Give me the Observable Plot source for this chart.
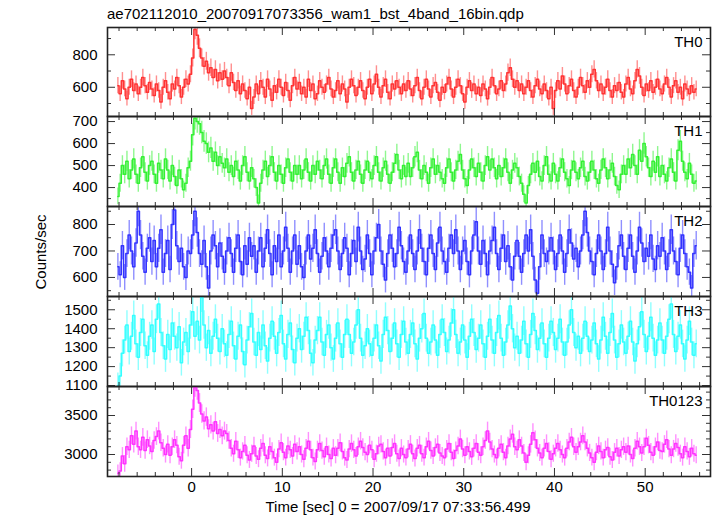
<!DOCTYPE html>
<html><head><meta charset="utf-8">
<script src="https://cdn.jsdelivr.net/npm/d3@7"></script>
<script src="https://cdn.jsdelivr.net/npm/@observablehq/plot@0.6"></script>
<style>
body{margin:0;background:#fff;font-family:"Liberation Sans",Arial,sans-serif;color:#000}
#wrap{position:relative;width:717px;height:516px;overflow:hidden}
.abs{position:absolute;white-space:nowrap}
</style></head><body><div id="wrap"></div>
<script>
const title = "ae702112010_20070917073356_wam1_bst_4band_16bin.qdp";
const xTitle = "Time [sec] 0 = 2007/09/17 07:33:56.499";
const yTitle = "Counts/sec";
const panelNames = ["TH0", "TH1", "TH2", "TH3", "TH0123"];
// time bins: 0.25 s wide starting at -8.25 s
const tStart = -8.25, binWidth = 0.25;
const xDomain = [-9.27, 57.2];
const xMajorTicks = [0, 10, 20, 30, 40, 50];
const xMinorTicks = [-8,-6,-4,-2,2,4,6,8,12,14,16,18,22,24,26,28,32,34,36,38,42,44,46,48,52,54,56];

const th0 = [
610,560,640,590,530,600,650,580,620,560,600,660,610,570,630,590,
550,620,580,510,600,640,570,530,620,590,660,610,540,600,650,620,
680,780,955,920,840,780,730,760,690,720,660,710,640,690,650,700,
660,610,690,630,580,640,560,620,580,530,600,470,540,620,560,640,
600,540,650,590,520,610,570,650,600,550,630,580,520,610,660,590,
630,560,600,540,650,580,620,530,560,640,600,570,620,660,590,540,
580,640,560,620,590,510,600,650,610,550,600,640,580,530,600,650,
560,620,680,600,540,610,650,570,530,620,590,640,600,560,620,580,
640,590,550,610,660,580,530,600,650,590,540,610,630,570,520,600,
570,620,660,590,540,600,650,610,560,510,600,640,580,620,560,600,
550,620,590,530,600,660,610,560,590,640,580,620,690,720,650,600,
640,580,620,560,600,640,580,540,610,650,590,560,620,580,530,600,
470,580,640,590,670,620,560,610,650,580,540,600,660,610,570,640,
600,680,710,640,580,620,560,600,650,580,540,610,580,630,570,540,
620,660,590,560,640,710,670,600,550,620,580,640,570,600,650,590,
560,620,660,600,540,610,640,570,600,530,620,590,560,610,570,590];
const th1 = [
360,420,500,460,520,440,480,530,460,420,490,540,470,430,500,520,
460,420,510,480,440,530,480,430,500,450,410,480,440,390,420,490,
520,640,715,700,690,650,610,600,560,580,520,560,500,540,510,490,
530,470,500,450,520,480,430,500,540,470,430,490,440,400,330,420,
480,520,450,500,540,470,430,500,460,420,490,530,470,430,500,460,
500,440,480,530,470,430,500,460,520,480,440,500,530,460,420,490,
530,470,420,490,450,510,540,470,430,480,520,460,420,480,520,470,
440,500,540,470,430,490,520,460,420,470,510,550,480,440,500,450,
510,450,490,540,560,480,440,500,470,420,490,530,460,500,470,440,
420,490,530,470,430,480,520,550,480,440,410,480,530,490,450,510,
470,430,500,540,480,530,490,440,500,450,490,530,470,420,480,510,
490,450,420,370,330,410,460,510,470,520,450,430,500,540,460,430,
510,460,430,490,530,470,440,410,480,520,470,440,490,520,450,430,
470,520,480,440,420,480,530,490,440,480,510,450,410,390,460,500,
460,530,490,550,500,460,570,520,600,540,490,450,520,470,540,450,
500,460,430,490,530,470,430,570,610,520,470,440,510,460,420,430];
const th2 = [
640,610,720,600,690,760,700,640,730,850,760,680,620,710,750,660,
740,640,710,780,620,690,740,630,800,855,720,660,710,640,600,700,
690,760,850,770,690,650,740,640,560,700,760,720,640,730,680,620,
700,750,690,620,710,760,660,610,720,650,750,680,720,620,700,750,
640,710,780,690,610,720,660,760,640,700,790,710,620,700,760,650,
720,640,600,700,760,670,710,780,690,620,680,750,700,640,710,760,
780,700,630,690,750,710,610,690,740,660,790,700,630,670,760,690,
610,700,750,800,700,650,590,690,760,710,640,690,790,720,660,620,
700,760,690,630,700,780,710,660,610,710,760,690,630,730,790,700,
660,620,710,760,690,780,700,630,700,740,660,610,700,760,810,700,
650,740,690,610,700,740,790,690,630,710,760,660,720,640,590,680,
740,680,620,690,760,700,780,680,590,540,640,760,690,660,700,750,
700,630,690,760,700,620,690,780,730,670,710,640,700,760,850,770,
700,660,610,690,760,700,630,690,790,700,650,580,640,720,760,680,
630,710,760,680,620,700,790,730,660,710,680,760,670,630,720,680,
750,700,630,690,780,700,660,610,710,760,690,640,620,560,690,720];
const th3 = [
1100,1150,1270,1340,1420,1280,1360,1470,1320,1250,1380,1450,1310,1260,1360,1420,
1280,1450,1530,1380,1310,1240,1370,1290,1430,1360,1300,1410,1220,1330,1380,1280,
1420,1490,1360,1440,1340,1565,1420,1300,1390,1270,1360,1450,1350,1280,1400,1320,
1260,1370,1440,1310,1240,1360,1420,1280,1210,1340,1410,1480,1330,1260,1380,1290,
1420,1310,1230,1350,1440,1360,1270,1380,1470,1320,1240,1370,1430,1290,1220,1350,
1400,1290,1360,1460,1390,1270,1220,1340,1390,1460,1330,1260,1370,1420,1300,1240,
1350,1430,1320,1250,1370,1450,1370,1270,1330,1420,1500,1350,1260,1310,1400,1320,
1260,1350,1420,1310,1230,1370,1460,1390,1280,1350,1430,1320,1250,1370,1440,1330,
1270,1370,1430,1320,1240,1350,1400,1480,1350,1270,1330,1420,1340,1260,1370,1450,
1380,1280,1340,1430,1500,1370,1270,1330,1420,1340,1250,1360,1450,1380,1290,1350,
1420,1320,1250,1360,1450,1340,1270,1380,1470,1350,1260,1330,1420,1520,1400,1300,
1360,1270,1340,1440,1320,1250,1370,1480,1390,1290,1350,1430,1320,1250,1350,1440,
1380,1290,1350,1450,1330,1260,1330,1420,1500,1380,1300,1360,1270,1350,1440,1360,
1280,1340,1430,1320,1240,1340,1460,1360,1270,1380,1480,1340,1250,1320,1420,1330,
1270,1360,1440,1330,1230,1320,1410,1490,1370,1280,1360,1460,1350,1260,1340,1430,
1340,1270,1360,1450,1530,1370,1280,1360,1420,1320,1240,1340,1440,1330,1260,1320];
const th0123 = [
2760,2790,2980,2880,3100,3060,3240,3130,3300,3100,3060,3220,3050,3190,3110,3040,
3180,3230,3300,3150,3080,3000,3130,2990,3100,3190,3120,2970,2920,3120,3240,3080,
3320,3580,3860,3820,3660,3520,3430,3480,3330,3380,3300,3420,3270,3320,3240,3300,
3270,3180,3080,3010,3170,3060,2960,3040,3120,2990,2930,3010,3110,2980,2940,3080,
3140,2990,2950,3100,3040,2960,2900,3070,3150,3030,2960,3110,3060,2980,3130,3040,
3100,3000,2940,3080,3170,3060,2960,2910,3060,3140,3050,2970,3100,3000,2950,3080,
2990,3080,3150,3040,2960,2930,3070,3140,3060,2980,3100,3170,3090,3030,3000,3120,
3060,2940,3010,3110,3130,3040,2960,3080,2980,3090,3140,3010,2950,3080,3000,2960,
3070,3130,3010,2950,3080,3120,3010,2960,3100,3170,3050,2980,3090,3130,3020,2980,
2960,3070,3140,3030,2950,3050,3110,3200,3070,2990,3100,3040,2970,3080,3140,3030,
2990,3100,3180,3300,3160,3070,3000,2960,3080,3130,3030,2960,3110,3200,3260,3100,
3060,3190,3110,3020,2900,2990,3130,3280,3190,3080,3020,2960,3080,3140,3040,2940,
3010,3080,3140,3060,3000,2960,3080,3160,3220,3100,3030,3100,3160,3240,3160,3080,
3020,2960,2900,3030,3110,3040,2960,3060,3090,2970,2930,3030,3080,2980,3060,3100,
3030,3110,3000,2950,3080,3170,3100,3020,3100,3210,3120,3030,2990,3100,3160,3050,
3040,3130,3190,3070,2990,3070,3140,3090,3010,2960,3100,3040,2970,3080,3010,2990];

const seriesValues = [th0, th1, th2, th3, th0123];
const yDomains = [[420, 968], [314, 723], [528, 868], [1095, 1570], [2718, 3872]];
const yLabelTicks = [[600, 800], [400, 500, 600, 700], [600, 700, 800], [1100, 1200, 1300, 1400, 1500], [3000, 3500]];
const yMinorTicks = [
  [500, 700, 900],
  [350, 450, 550, 650],
  [550, 650, 750, 850],
  [1150, 1250, 1350, 1450, 1550],
  [2800, 2900, 3100, 3200, 3300, 3400, 3600, 3700, 3800]];
const colors = ["#ff3333", "#33f033", "#3333ff", "#33ffff", "#ff33ff"];
const panelTops = [27, 116, 206, 296, 386];
const panelBottom = 476;

const FONT = '"Liberation Sans", Arial, Helvetica, sans-serif';
const W = 717, ML = 107, MR = 7;
const PW = W - ML - MR;
const wrap = document.getElementById("wrap");

function addText(txt, css) {
  const d = document.createElement("div");
  d.className = "abs";
  d.textContent = txt;
  Object.assign(d.style, css);
  wrap.appendChild(d);
}
addText(title, {left: "107px", top: "5px", fontSize: "15px", fontFamily: FONT});

panelNames.forEach((name, i) => {
  const vals = seriesValues[i];
  // Poisson error of a rate in a 0.25 s bin
  const data = vals.map((v, k) => ({t: tStart + binWidth * (k + 0.5), v, e: Math.sqrt(v / binWidth)}));
  const top = panelTops[i];
  const bottom = i < 4 ? panelTops[i + 1] : panelBottom;
  const ph = bottom - top;
  const last = i === 4;
  const mt = 2, mb = last ? 40 : 2;
  const tk = {stroke: "#333", strokeWidth: 1};
  const marks = [
    Plot.ruleX(data, {x: "t", y1: d => d.v - d.e, y2: d => d.v + d.e, stroke: colors[i], strokeOpacity: 0.55, strokeWidth: 1.4, clip: true}),
    Plot.line(data, {x: "t", y: "v", curve: "step", stroke: colors[i], strokeWidth: 1.5, clip: true}),
    Plot.ruleX(xMinorTicks, {x: d => d, insetTop: ph - 4, ...tk}),
    Plot.ruleX(xMinorTicks, {x: d => d, insetBottom: ph - 4, ...tk}),
    Plot.ruleX(xMajorTicks, {x: d => d, insetTop: ph - 8, ...tk}),
    Plot.ruleX(xMajorTicks, {x: d => d, insetBottom: ph - 8, ...tk}),
    Plot.ruleY(yMinorTicks[i], {y: d => d, insetRight: PW - 4, ...tk}),
    Plot.ruleY(yMinorTicks[i], {y: d => d, insetLeft: PW - 4, ...tk}),
    Plot.ruleY(yLabelTicks[i], {y: d => d, insetRight: PW - 8, ...tk}),
    Plot.ruleY(yLabelTicks[i], {y: d => d, insetLeft: PW - 8, ...tk}),
    Plot.frame({stroke: "#222", strokeWidth: 1.6}),
    Plot.axisY(yLabelTicks[i], {tickSize: 0, tickPadding: 10, fontSize: 15, label: null, tickFormat: d => String(d)}),
    Plot.text([name], {frameAnchor: "top-right", dx: -8, dy: 9, textAnchor: "end", fontSize: 15, fill: "#000"})
  ];
  if (last) marks.push(Plot.axisX(xMajorTicks, {tickSize: 0, tickPadding: 5, fontSize: 15, label: null, tickFormat: d => String(d)}));
  const chart = Plot.plot({
    width: W, height: ph + mt + mb,
    marginLeft: ML, marginRight: MR, marginTop: mt, marginBottom: mb,
    style: {fontFamily: FONT, fontSize: "15px", background: "transparent", overflow: "visible"},
    x: {domain: xDomain, ...(last ? {} : {axis: null})},
    y: {domain: yDomains[i], label: null},
    marks
  });
  chart.style.position = "absolute";
  chart.style.left = "0px";
  chart.style.top = (top - mt) + "px";
  wrap.appendChild(chart);
});

addText(xTitle, {left: "398px", top: "498px", transform: "translateX(-50%)", fontSize: "15px", fontFamily: FONT});
addText(yTitle, {left: "40px", top: "252px", transform: "translate(-50%,-50%) rotate(-90deg)", fontSize: "15px", fontFamily: FONT});
</script></body></html>
